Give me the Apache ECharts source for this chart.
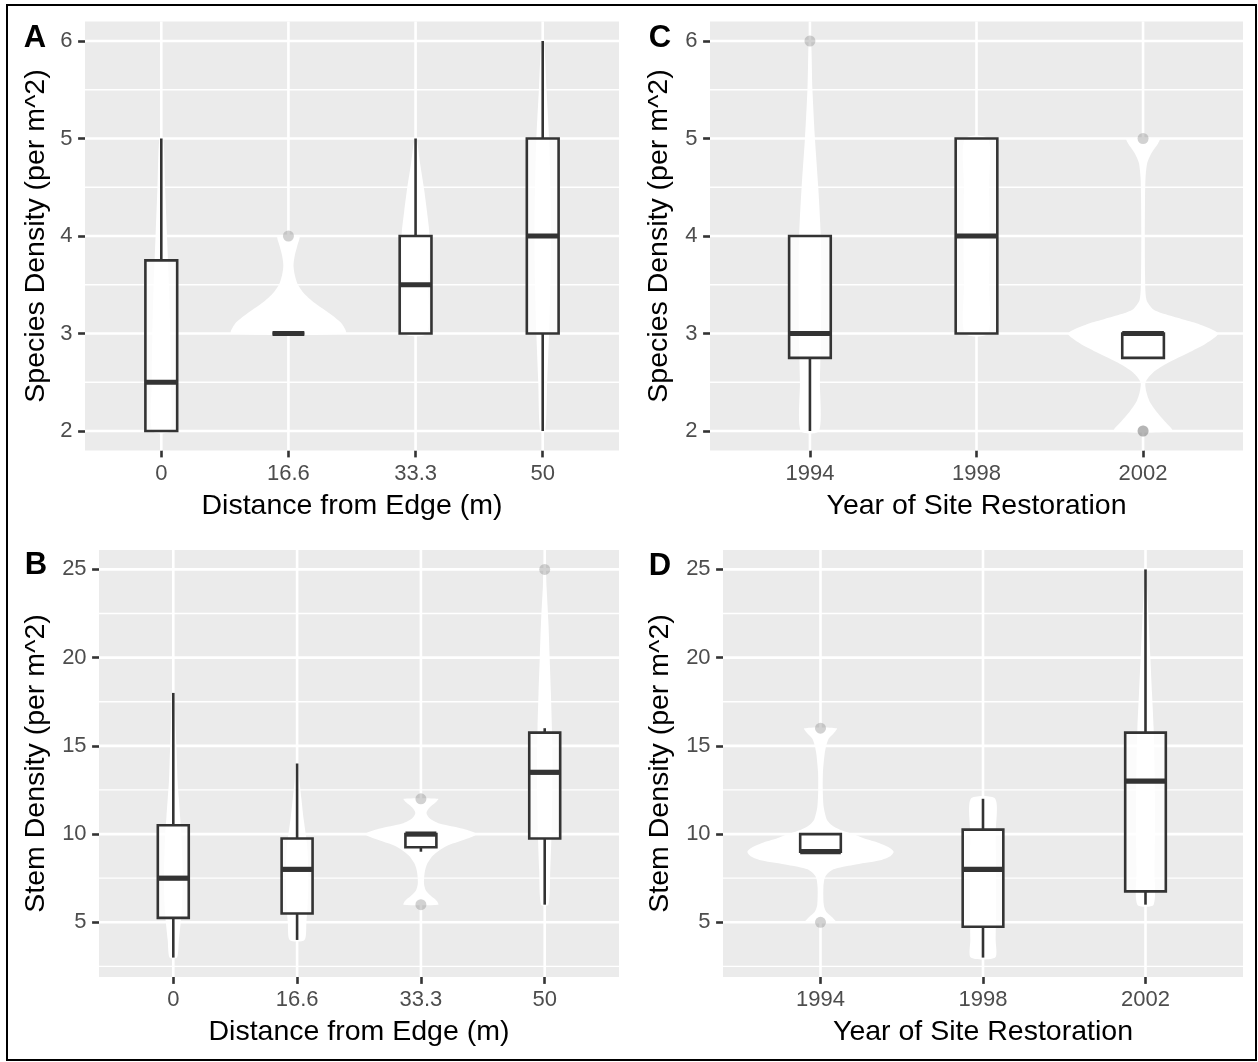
<!DOCTYPE html>
<html>
<head>
<meta charset="utf-8">
<script src="https://cdn.jsdelivr.net/npm/echarts@6/dist/echarts.min.js"></script>
<style>
  html, body { margin: 0; padding: 0; background: #ffffff; }
  #chart { width: 1258px; height: 1062px; }
</style>
</head>
<body>
<div id="chart"></div>
<script>
// Groups on the x axes
const distanceLabels = ['0', '16.6', '33.3', '50'];
const yearLabels = ['1994', '1998', '2002'];

// Tick values on the y axes (major and minor)
const speciesTicks = [2, 3, 4, 5, 6];
const speciesMinor = [2.5, 3.5, 4.5, 5.5];
const stemTicks = [5, 10, 15, 20, 25];
const stemMinor = [2.5, 7.5, 12.5, 17.5, 22.5];

// Box statistics per group: [lower whisker, Q1, median, Q3, upper whisker]
const speciesByDistance = [[2, 2, 2.5, 3.75, 5], [3, 3, 3, 3, 3], [3, 3, 3.5, 4, 5], [2, 3, 4, 5, 6]];
const speciesByYear = [[2, 2.75, 3, 4, 4], [3, 3, 4, 5, 5], [2.75, 2.75, 3, 3, 3]];
const stemByDistance = [[3, 5.25, 7.5, 10.5, 18], [4, 5.5, 8, 9.75, 14], [9, 9.25, 10, 10, 10], [6, 9.75, 13.5, 15.75, 16]];
const stemByYear = [[9, 9, 9, 10, 10], [3, 4.75, 8, 10.25, 12], [6, 6.75, 13, 15.75, 25]];

// Outlying observations: [group index, value]
const speciesByDistanceOut = [[1, 4]];
const speciesByYearOut = [[0, 6], [2, 5], [2, 2], [2, 2]];
const stemByDistanceOut = [[2, 12], [2, 6], [3, 25]];
const stemByYearOut = [[0, 16], [0, 5]];

// Violin outlines per group: [value, half-width as a share of the group spacing]
const speciesByDistanceViolin = [
  [[2, 0.07], [2.5, 0.075], [3, 0.07], [3.5, 0.06], [4, 0.045], [4.5, 0.03], [5, 0.015]],
  [[3, 0.45], [3.1, 0.42], [3.2, 0.33], [3.3, 0.22], [3.4, 0.13], [3.5, 0.075], [3.6, 0.05], [3.7, 0.04], [3.8, 0.05], [3.9, 0.07], [4, 0.085]],
  [[3, 0.09], [3.5, 0.1], [4, 0.11], [4.25, 0.09], [4.5, 0.065], [4.75, 0.035], [5, 0.008]],
  [[2, 0.02], [2.5, 0.035], [3, 0.05], [3.5, 0.06], [4, 0.065], [4.5, 0.06], [5, 0.05], [5.5, 0.03], [6, 0.01]]
];
const speciesByYearViolin = [
  [[2, 0.055], [2.5, 0.06], [3, 0.066], [3.5, 0.068], [4, 0.065], [4.5, 0.05], [5, 0.03], [5.5, 0.015], [6, 0.006]],
  [[3, 0.07], [3.5, 0.075], [4, 0.078], [4.5, 0.075], [5, 0.07]],
  [[2, 0.175], [2.1, 0.13], [2.2, 0.08], [2.3, 0.04], [2.4, 0.02], [2.5, 0.015], [2.6, 0.06], [2.7, 0.15], [2.8, 0.27], [2.9, 0.38], [3, 0.45],
   [3.1, 0.33], [3.15, 0.23], [3.2, 0.13], [3.25, 0.06], [3.35, 0.02], [3.6, 0.012], [4, 0.01], [4.4, 0.012], [4.6, 0.015], [4.75, 0.025], [4.85, 0.05], [4.95, 0.09], [5, 0.1]]
];
const stemByDistanceViolin = [
  [[3, 0.03], [4, 0.045], [5, 0.06], [6, 0.07], [7, 0.075], [8, 0.075], [9, 0.07], [10, 0.065], [11, 0.055], [12, 0.045], [13, 0.035], [14, 0.03], [15, 0.025], [16, 0.02], [17, 0.015], [18, 0.01]],
  [[4, 0.06], [5, 0.075], [6, 0.085], [7, 0.09], [8, 0.09], [9, 0.085], [10, 0.07], [11, 0.05], [12, 0.035], [13, 0.02], [14, 0.01]],
  [[6, 0.14], [6.2, 0.13], [6.5, 0.08], [6.8, 0.04], [7.2, 0.025], [7.8, 0.03], [8.3, 0.05], [8.8, 0.1], [9.3, 0.2], [9.7, 0.36], [10, 0.45],
   [10.3, 0.34], [10.6, 0.15], [10.9, 0.07], [11.2, 0.045], [11.5, 0.07], [11.8, 0.12], [12, 0.14]],
  [[6, 0.03], [8, 0.045], [10, 0.055], [12, 0.06], [14, 0.062], [16, 0.058], [18, 0.05], [20, 0.04], [22, 0.03], [24, 0.015], [25, 0.008]]
];
const stemByYearViolin = [
  [[5, 0.095], [5.3, 0.07], [5.6, 0.035], [6, 0.02], [7, 0.018], [7.6, 0.03], [8, 0.08], [8.25, 0.2], [8.5, 0.36], [8.75, 0.43], [9, 0.45],
   [9.25, 0.42], [9.5, 0.36], [9.75, 0.27], [10, 0.2], [10.25, 0.12], [10.5, 0.07], [10.8, 0.04], [11.5, 0.02], [12.5, 0.014], [13.5, 0.015],
   [14.5, 0.025], [15, 0.035], [15.4, 0.05], [15.7, 0.08], [16, 0.1]],
  [[3, 0.075], [4, 0.078], [6, 0.08], [8, 0.08], [10, 0.078], [12, 0.075]],
  [[6, 0.05], [8, 0.055], [10, 0.058], [12, 0.058], [14, 0.055], [16, 0.05], [18, 0.04], [20, 0.03], [22, 0.02], [24, 0.01], [25, 0.005]]
];

const FONT = '"Liberation Sans", Arial, Helvetica, sans-serif';
const INK = '#333333';
const TITLE_SIZE = 28.5;

// Four panels laid out two by two
const panels = [
  { letter: 'A', letterPos: [35, 38], grid: { left: 85, top: 21.5, width: 534, height: 429 },
    cats: distanceLabels, yRange: [1.8, 6.2], ticks: speciesTicks, minor: speciesMinor,
    boxes: speciesByDistance, outliers: speciesByDistanceOut, violins: speciesByDistanceViolin,
    xName: 'Distance from Edge (m)', yName: 'Species Density (per m^2)', yGap: 34 },
  { letter: 'C', letterPos: [660, 38], grid: { left: 710, top: 21.5, width: 533, height: 429 },
    cats: yearLabels, yRange: [1.8, 6.2], ticks: speciesTicks, minor: speciesMinor,
    boxes: speciesByYear, outliers: speciesByYearOut, violins: speciesByYearViolin,
    xName: 'Year of Site Restoration', yName: 'Species Density (per m^2)', yGap: 36 },
  { letter: 'B', letterPos: [36, 565], grid: { left: 99, top: 550, width: 520, height: 427 },
    cats: distanceLabels, yRange: [1.9, 26.1], ticks: stemTicks, minor: stemMinor,
    boxes: stemByDistance, outliers: stemByDistanceOut, violins: stemByDistanceViolin,
    xName: 'Distance from Edge (m)', yName: 'Stem Density (per m^2)', yGap: 48 },
  { letter: 'D', letterPos: [660, 566], grid: { left: 723, top: 550, width: 520, height: 427 },
    cats: yearLabels, yRange: [1.9, 26.1], ticks: stemTicks, minor: stemMinor,
    boxes: stemByYear, outliers: stemByYearOut, violins: stemByYearViolin,
    xName: 'Year of Site Restoration', yName: 'Stem Density (per m^2)', yGap: 48 }
];

// White panel grid: 0 = major horizontal, 1 = minor horizontal, 2 = vertical at a group
function gridLineItem(params, api) {
  const kind = api.value(0);
  const v = api.value(1);
  const cs = params.coordSys;
  if (kind === 2) {
    const x = api.coord([v, 0])[0];
    return { type: 'line', shape: { x1: x, y1: cs.y, x2: x, y2: cs.y + cs.height },
             style: { stroke: '#ffffff', lineWidth: 2.6 } };
  }
  const y = api.coord([1, v])[1];
  return { type: 'line', shape: { x1: cs.x, y1: y, x2: cs.x + cs.width, y2: y },
           style: { stroke: '#ffffff', lineWidth: kind === 0 ? 2.6 : 1.3 } };
}

function violinRenderer(profiles) {
  return function (params, api) {
    const prof = profiles[params.dataIndex];
    const xc = api.value(0);
    const unit = api.size([1, 0])[0];
    const cx = api.coord([xc, 0])[0];
    const right = prof.map(([v, w]) => [cx + w * unit, api.coord([xc, v])[1]]);
    const left = prof.slice().reverse().map(([v, w]) => [cx - w * unit, api.coord([xc, v])[1]]);
    return { type: 'polygon', shape: { points: right.concat(left), smooth: 0.25 },
             style: { fill: '#ffffff' } };
  };
}

function boxItem(params, api) {
  const x = api.value(0);
  const unit = api.size([1, 0])[0];
  const half = 0.125 * unit;
  const cx = api.coord([x, api.value(1)])[0];
  const yLow = api.coord([x, api.value(1)])[1];
  const yQ1 = api.coord([x, api.value(2)])[1];
  const yMed = api.coord([x, api.value(3)])[1];
  const yQ3 = api.coord([x, api.value(4)])[1];
  const yHigh = api.coord([x, api.value(5)])[1];
  const st = { stroke: INK, lineWidth: 2.6 };
  const kids = [];
  if (yHigh < yQ3) kids.push({ type: 'line', shape: { x1: cx, y1: yQ3, x2: cx, y2: yHigh }, style: st });
  if (yLow > yQ1) kids.push({ type: 'line', shape: { x1: cx, y1: yQ1, x2: cx, y2: yLow }, style: st });
  kids.push({ type: 'rect', shape: { x: cx - half, y: yQ3, width: 2 * half, height: yQ1 - yQ3 },
              style: { fill: 'rgba(255,255,255,0.8)', stroke: INK, lineWidth: 2.6 } });
  kids.push({ type: 'line', shape: { x1: cx - half, y1: yMed, x2: cx + half, y2: yMed },
              style: { stroke: INK, lineWidth: 5.2 } });
  return { type: 'group', children: kids };
}

const series = [];
panels.forEach((p, i) => {
  const gridData = []
    .concat(p.ticks.map(v => [0, v]))
    .concat(p.minor.map(v => [1, v]))
    .concat(p.cats.map((_, k) => [2, k + 1]));
  series.push({ type: 'custom', xAxisIndex: i, yAxisIndex: i, z: 1, silent: true,
                renderItem: gridLineItem, data: gridData });
  series.push({ type: 'custom', xAxisIndex: i, yAxisIndex: i, z: 2, silent: true,
                renderItem: violinRenderer(p.violins),
                data: p.violins.map((_, k) => [k + 1, p.violins[k][0][0]]) });
  series.push({ type: 'custom', xAxisIndex: i, yAxisIndex: i, z: 3, silent: true,
                renderItem: boxItem,
                data: p.boxes.map((b, k) => [k + 1].concat(b)) });
  series.push({ type: 'scatter', xAxisIndex: i, yAxisIndex: i, z: 4, silent: true,
                symbol: 'circle', symbolSize: 11,
                itemStyle: { color: 'rgba(130,130,130,0.45)' },
                data: p.outliers.map(([g, v]) => [g + 1, v]) });
});

const option = {
  animation: false,
  backgroundColor: '#ffffff',
  textStyle: { fontFamily: FONT },
  grid: panels.map(p => Object.assign({ show: true, backgroundColor: '#EBEBEB', borderWidth: 0 }, p.grid)),
  xAxis: panels.map((p, i) => ({
    type: 'value', gridIndex: i, min: 0.4, max: p.cats.length + 0.6,
    name: p.xName, nameLocation: 'middle', nameGap: 41,
    nameTextStyle: { fontSize: TITLE_SIZE, color: '#000000', fontFamily: FONT },
    axisLine: { show: false }, splitLine: { show: false },
    axisTick: { show: true, length: 6.9, lineStyle: { color: INK, width: 2.6 },
                customValues: p.cats.map((_, k) => k + 1) },
    axisLabel: { customValues: p.cats.map((_, k) => k + 1),
                 formatter: v => p.cats[Math.round(v) - 1],
                 margin: 12.4, fontSize: 22, color: '#4D4D4D', fontFamily: FONT }
  })),
  yAxis: panels.map((p, i) => ({
    type: 'value', gridIndex: i, min: p.yRange[0], max: p.yRange[1],
    name: p.yName, nameLocation: 'middle', nameRotate: 90, nameGap: p.yGap,
    nameTextStyle: { fontSize: TITLE_SIZE, color: '#000000', fontFamily: FONT },
    axisLine: { show: false }, splitLine: { show: false },
    axisTick: { show: true, length: 6.9, lineStyle: { color: INK, width: 2.6 }, customValues: p.ticks },
    axisLabel: { customValues: p.ticks, margin: 12.4, fontSize: 22, color: '#4D4D4D', fontFamily: FONT }
  })),
  graphic: [
    { type: 'rect', silent: true, z: 100,
      shape: { x: 7, y: 5, width: 1249, height: 1055 },
      style: { fill: 'none', stroke: '#000000', lineWidth: 2 } }
  ].concat(panels.map(p => ({
    type: 'text', silent: true, x: p.letterPos[0], y: p.letterPos[1],
    style: { text: p.letter, font: 'bold 31px ' + FONT, fill: '#000000',
             align: 'center', verticalAlign: 'middle' }
  }))),
  series: series
};

const chart = echarts.init(document.getElementById('chart'), null, { renderer: 'canvas' });
chart.setOption(option);
</script>
</body>
</html>
